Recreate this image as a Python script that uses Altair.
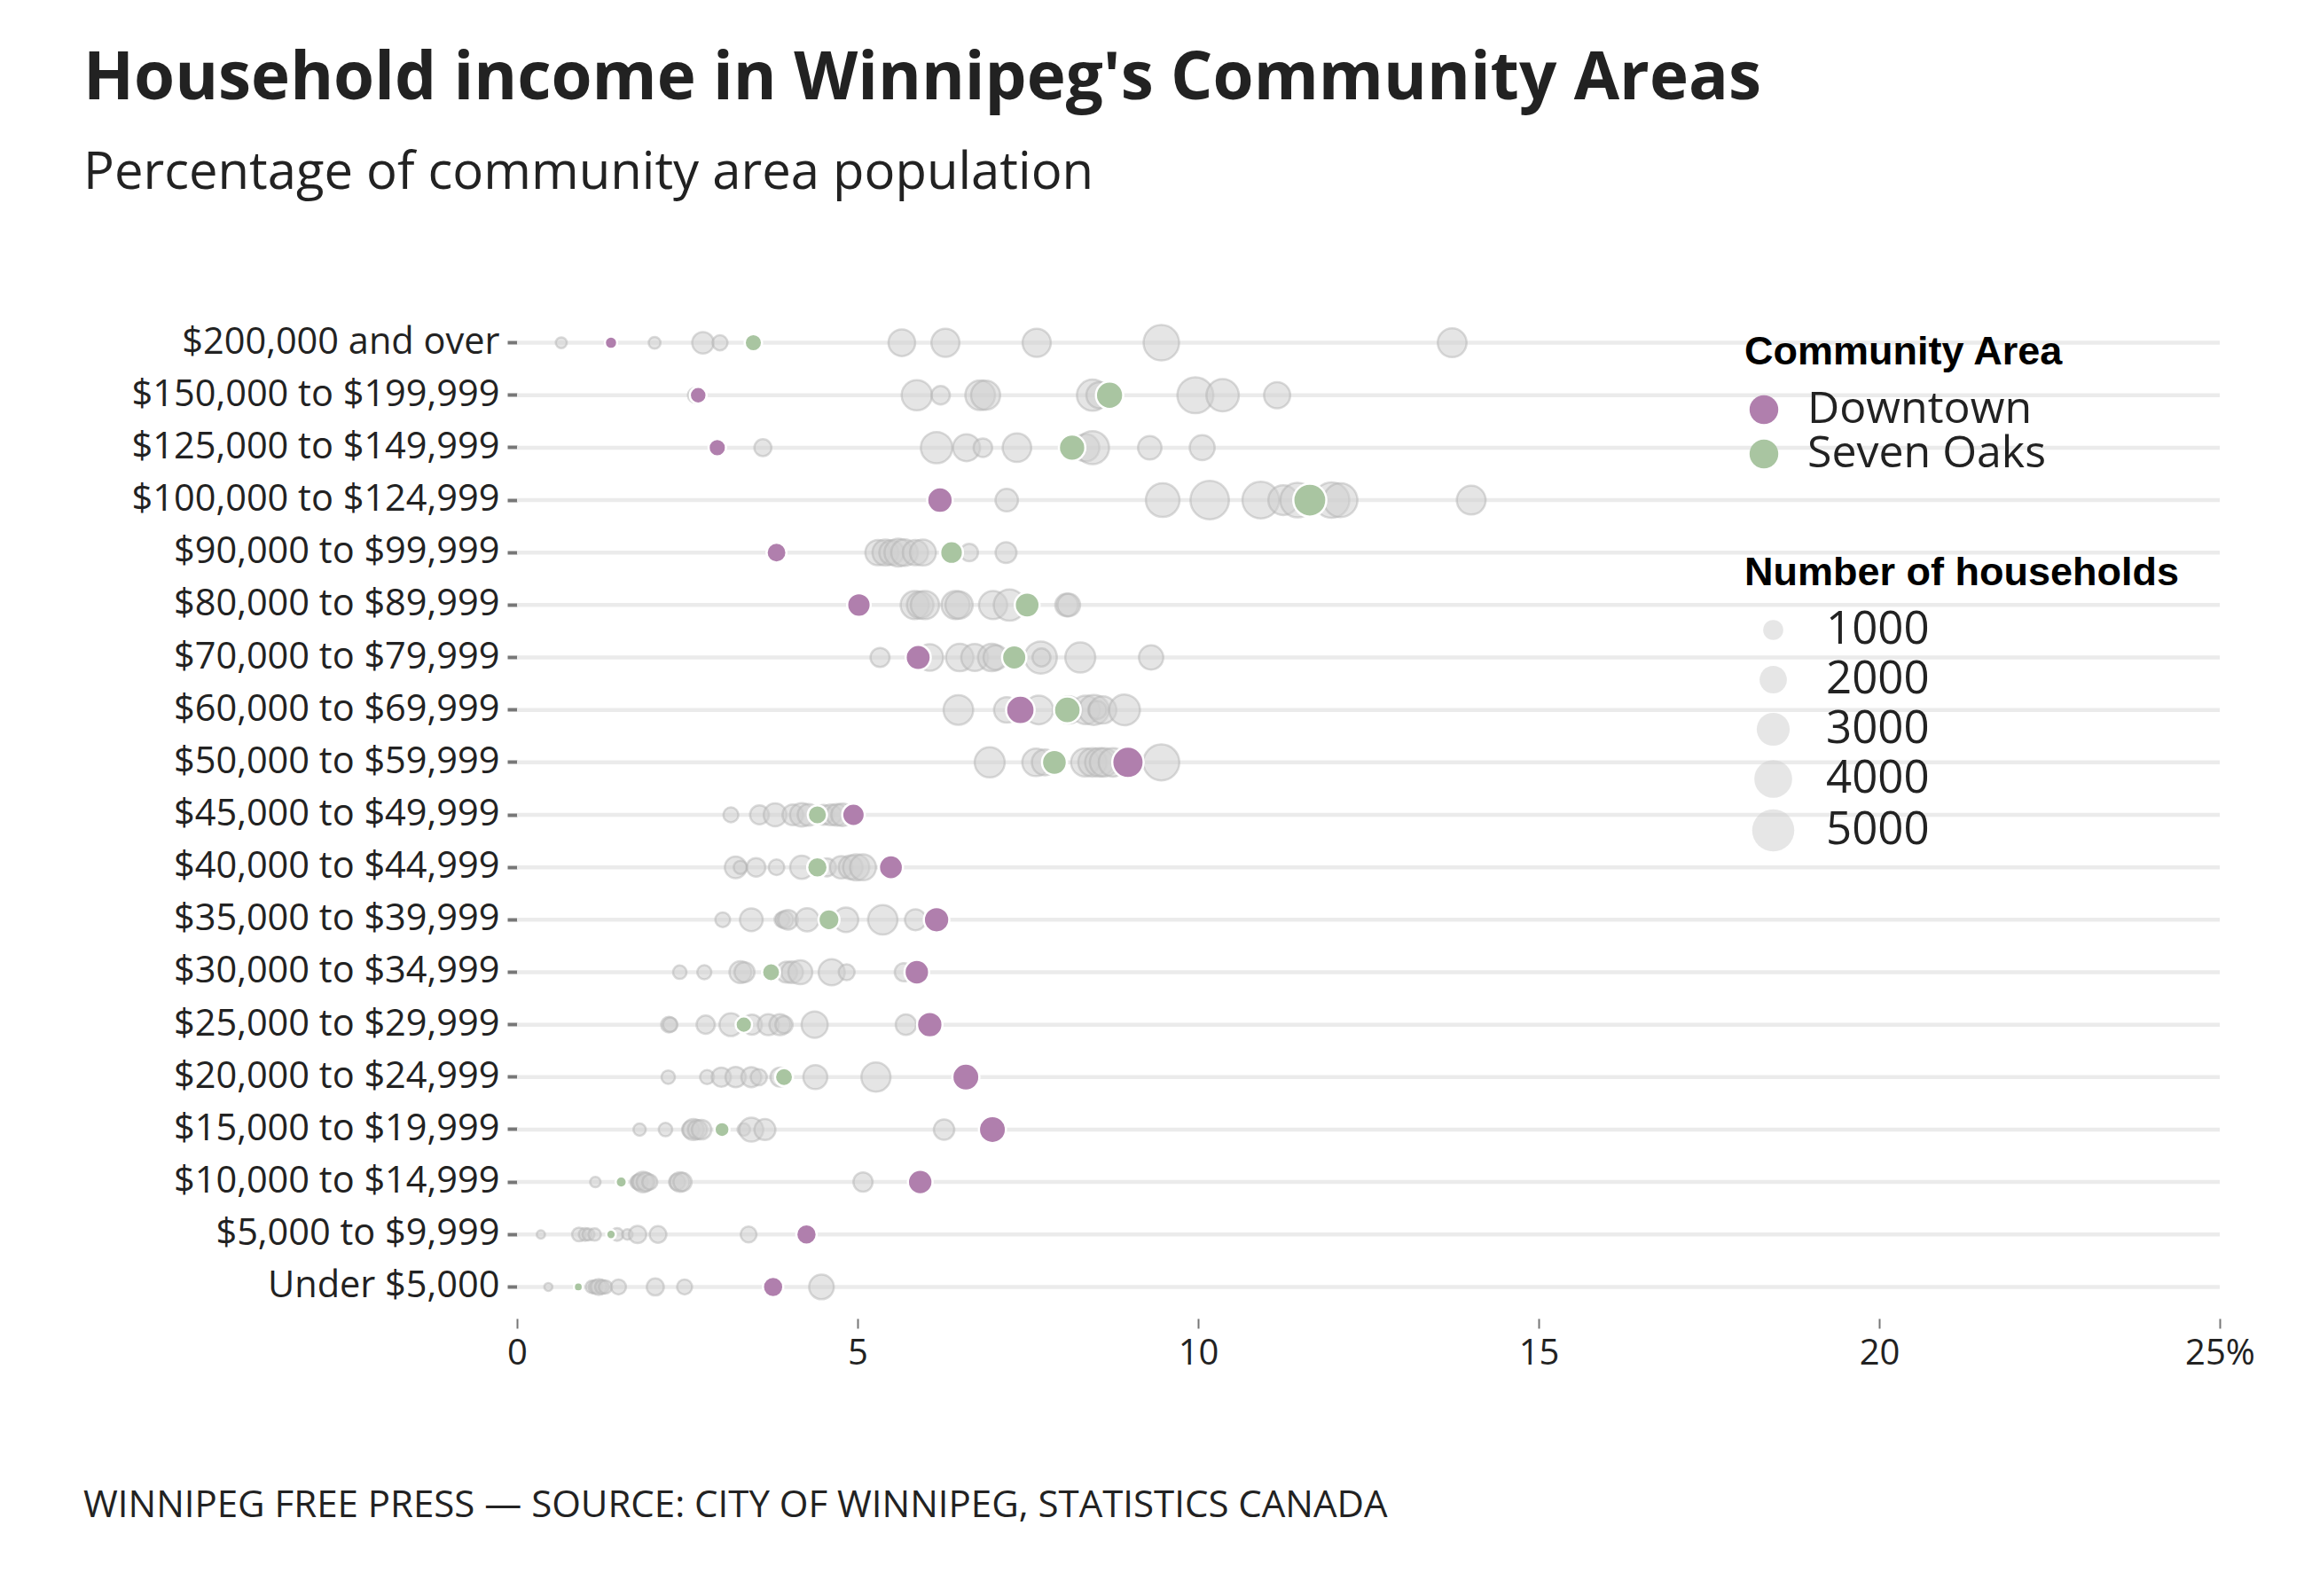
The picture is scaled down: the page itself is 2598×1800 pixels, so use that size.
import altair as alt
import pandas as pd

INCOME = [
    "$200,000 and over", "$150,000 to $199,999", "$125,000 to $149,999",
    "$100,000 to $124,999", "$90,000 to $99,999", "$80,000 to $89,999",
    "$70,000 to $79,999", "$60,000 to $69,999", "$50,000 to $59,999",
    "$45,000 to $49,999", "$40,000 to $44,999", "$35,000 to $39,999",
    "$30,000 to $34,999", "$25,000 to $29,999", "$20,000 to $24,999",
    "$15,000 to $19,999", "$10,000 to $14,999", "$5,000 to $9,999",
    "Under $5,000",
]

DOWNTOWN_PCT = [1.38, 2.66, 2.94, 6.21, 3.81, 5.02, 5.89, 7.39, 8.97, 4.94,
                5.49, 6.16, 5.87, 6.06, 6.59, 6.98, 5.92, 4.25, 3.76]
DOWNTOWN_HH = [281, 656, 711, 1744, 984, 1451, 1674, 2203, 2711, 1314,
               1516, 1733, 1605, 1733, 1962, 1962, 1605, 1048, 1048]

SEVEN_OAKS_PCT = [3.47, 8.70, 8.15, 11.64, 6.38, 7.49, 7.30, 8.08, 7.89, 4.41,
                  4.41, 4.58, 3.73, 3.33, 3.92, 3.01, 1.53, 1.38, 0.90]
SEVEN_OAKS_HH = [711, 2010, 1875, 3021, 1344, 1639, 1561, 1912, 1639, 911,
                 1048, 1124, 783, 625, 783, 489, 194, 100, 70]

# Other community areas, one list per income row (same order as INCOME)
OTHER_PCT = [
    [0.65, 2.02, 2.73, 2.98, 5.65, 6.29, 7.63, 9.46, 13.73],
    [2.62, 5.87, 6.22, 6.80, 6.88, 8.45, 8.55, 9.96, 10.36, 11.16],
    [3.61, 6.16, 6.60, 6.84, 7.34, 8.35, 8.45, 9.29, 10.06],
    [7.19, 9.48, 10.17, 10.92, 11.25, 11.46, 11.96, 12.09, 14.01],
    [5.30, 5.41, 5.50, 5.60, 5.69, 5.85, 5.96, 6.64, 7.18],
    [5.84, 5.92, 5.99, 6.44, 6.49, 6.99, 7.23, 8.07, 8.10],
    [5.33, 6.06, 6.50, 6.72, 6.97, 7.03, 7.69, 7.70, 8.27, 9.31],
    [6.48, 7.19, 7.66, 8.10, 8.35, 8.47, 8.52, 8.60, 8.92],
    [6.94, 7.62, 7.75, 8.34, 8.45, 8.55, 8.62, 8.75, 9.46],
    [3.14, 3.56, 3.79, 4.05, 4.18, 4.28, 4.50, 4.61, 4.70, 4.78],
    [3.21, 3.28, 3.51, 3.81, 4.18, 4.55, 4.76, 4.90, 4.98, 5.08],
    [3.02, 3.44, 3.89, 3.93, 3.98, 4.26, 4.83, 5.37, 5.85],
    [2.39, 2.75, 3.28, 3.34, 3.96, 4.04, 4.16, 4.62, 4.84, 5.68],
    [2.23, 2.25, 2.77, 3.14, 3.45, 3.69, 3.86, 3.92, 4.37, 5.71],
    [2.22, 2.79, 3.00, 3.21, 3.44, 3.55, 3.86, 4.38, 5.27],
    [1.80, 2.18, 2.55, 2.59, 2.65, 2.71, 3.33, 3.44, 3.64, 6.27],
    [1.15, 1.77, 1.80, 1.85, 1.89, 1.95, 2.35, 2.39, 2.43, 5.08],
    [0.35, 0.91, 1.00, 1.05, 1.14, 1.47, 1.62, 1.77, 2.07, 3.40],
    [0.46, 1.10, 1.15, 1.20, 1.25, 1.30, 1.49, 2.03, 2.46, 4.47],
]
OTHER_HH = [
    [184, 242, 1181, 501, 1912, 2137, 2163, 3506, 2255],
    [500, 2512, 825, 2400, 2300, 2682, 1800, 3623, 2903, 1827],
    [679, 2711, 1960, 842, 2214, 2000, 3000, 1440, 1651],
    [1314, 3142, 4152, 3756, 2430, 3300, 3507, 3190, 2255],
    [1700, 1800, 1600, 2100, 1900, 1700, 1800, 727, 1112],
    [2163, 1900, 2163, 2163, 2000, 2163, 2711, 1344, 1344],
    [895, 1912, 2040, 1950, 2040, 1600, 2850, 780, 2470, 1560],
    [2390, 1710, 2250, 2000, 2200, 2470, 800, 2000, 2600],
    [2470, 2040, 1800, 2130, 2200, 2200, 2200, 2200, 3600],
    [489, 877, 1355, 1100, 1440, 1200, 1000, 1120, 1200, 1310],
    [1200, 350, 840, 545, 1400, 800, 1310, 1500, 1830, 1800],
    [467, 1355, 480, 700, 955, 1400, 1600, 2360, 1120],
    [364, 414, 1230, 1000, 1120, 1200, 1500, 1830, 573, 800],
    [545, 450, 808, 1355, 1000, 1120, 1120, 700, 1830, 1050],
    [364, 414, 911, 1050, 1010, 600, 900, 1515, 2310],
    [275, 364, 700, 1120, 900, 950, 290, 1515, 1120, 1050],
    [155, 440, 600, 1050, 800, 500, 600, 950, 800, 911],
    [30, 390, 300, 252, 290, 300, 155, 718, 655, 573],
    [20, 300, 364, 573, 400, 350, 489, 686, 489, 1605],
]

AREAS = ["Downtown", "Seven Oaks"]
AREA_COLORS = ["#b07fad", "#a9c5a1"]
SIZE_LEGEND_VALUES = [1000, 2000, 3000, 4000, 5000]
X_TICKS = [0, 5, 10, 15, 20, 25]
TITLE = "Household income in Winnipeg's Community Areas"
SUBTITLE = "Percentage of community area population"
FOOTER = "WINNIPEG FREE PRESS \u2014 SOURCE: CITY OF WINNIPEG, STATISTICS CANADA"

# ---- tables built from the arrays above ----
other_rows = []
for inc, pcts, hhs in zip(INCOME, OTHER_PCT, OTHER_HH):
    for p, h in zip(pcts, hhs):
        other_rows.append({"income": inc, "pct": p, "households": h})
other_df = pd.DataFrame(other_rows)

focus_rows = []
for area, pcts, hhs in [("Downtown", DOWNTOWN_PCT, DOWNTOWN_HH),
                        ("Seven Oaks", SEVEN_OAKS_PCT, SEVEN_OAKS_HH)]:
    for inc, p, h in zip(INCOME, pcts, hhs):
        focus_rows.append({"income": inc, "pct": p, "households": h, "area": area})
focus_df = pd.DataFrame(focus_rows)

grid_df = pd.DataFrame({"income": INCOME, "start": [0] * len(INCOME),
                        "end": [X_TICKS[-1]] * len(INCOME)})
footer_df = pd.DataFrame({"note": [FOOTER]})

# ---- scales & axes ----
x_scale = alt.Scale(domain=[0, 25], nice=False, zero=True)
y_scale = alt.Scale(domain=INCOME, paddingInner=0, paddingOuter=0)
size_scale = alt.Scale(domain=[1000, 5000], range=[510, 2256], zero=False)

x_axis = alt.Axis(title=None, domain=False, grid=False, values=X_TICKS,
                  tickColor="#777777", tickSize=11, tickWidth=2,
                  labelFont="Open Sans", labelFontSize=40, labelColor="#222222",
                  labelPadding=8, offset=6, labelFlush=False, labelOverlap=False,
                  labelExpr="datum.value == 25 ? '25%' : datum.label")
y_axis = alt.Axis(title=None, domain=False, grid=False, tickColor="#777777",
                  tickSize=11, tickWidth=4, labelFont="Open Sans",
                  labelFontSize=41.5, labelColor="#222222", labelPadding=9,
                  labelLimit=700)

X = alt.X("pct:Q", scale=x_scale, axis=x_axis)
Y = alt.Y("income:N", scale=y_scale, sort=INCOME, axis=y_axis)

grid = alt.Chart(grid_df).mark_rule(color="#ebebeb", strokeWidth=4.5).encode(
    y=Y,
    x=alt.X("start:Q", scale=x_scale, axis=x_axis),
    x2="end:Q",
)

others = alt.Chart(other_df).mark_circle(
    fill="#cfcfcf", fillOpacity=0.55, stroke="#b0b0b0", strokeOpacity=0.45,
    strokeWidth=2.5, opacity=1,
).encode(
    x=X, y=Y,
    size=alt.Size("households:Q", scale=size_scale, legend=alt.Legend(
        title="Number of households", values=SIZE_LEGEND_VALUES, format="d",
        orient="none", legendX=1384, legendY=267, direction="vertical",
        symbolType="circle", symbolOffset=7, labelOffset=34,
        symbolFillColor="#e6e6e6", symbolStrokeColor="white",
        symbolStrokeWidth=2, symbolOpacity=0.5,
        titlePadding=16, rowPadding=4,
        labelFont="Open Sans", labelFontSize=51, labelColor="#222222",
        labelLimit=600, titleFont="Liberation Sans", titleFontSize=45,
        titleFontWeight="bold", titleColor="#000000", titleLimit=900)),
)

focus = alt.Chart(focus_df).mark_circle(
    fillOpacity=1, opacity=1, stroke="white", strokeWidth=2.5,
).encode(
    x=X, y=Y,
    size=alt.Size("households:Q", scale=size_scale, legend=None),
    color=alt.Color("area:N", scale=alt.Scale(domain=AREAS, range=AREA_COLORS),
                    legend=alt.Legend(
                        title="Community Area", orient="none", legendX=1384,
                        legendY=18, direction="vertical", symbolType="circle",
                        symbolSize=1050, symbolOffset=-3, labelOffset=24,
                        symbolStrokeWidth=0, titlePadding=17, rowPadding=-3,
                        labelFont="Open Sans", labelFontSize=50,
                        labelColor="#222222", labelLimit=600,
                        titleFont="Liberation Sans", titleFontSize=45,
                        titleFontWeight="bold", titleColor="#000000",
                        titleLimit=900)),
)

footer = alt.Chart(footer_df).mark_text(
    align="left", baseline="alphabetic", font="Open Sans", fontSize=42,
    color="#222222",
).encode(x=alt.value(-489), y=alt.value(1354), text="note:N")

chart = alt.layer(grid, others, focus, footer).properties(
    width=1920, height=1124,
    title=alt.TitleParams(
        text=TITLE, subtitle=SUBTITLE, anchor="start", frame="group",
        dx=-489, offset=131, font="Open Sans", fontSize=74.5, fontWeight="bold",
        color="#222222", subtitleFont="Open Sans", subtitleFontSize=58,
        subtitleColor="#222222", subtitlePadding=40),
    autosize=alt.AutoSizeParams(type="none"),
    padding={"left": 575, "top": 349, "right": 80, "bottom": 300},
).configure(background="white").configure_view(strokeWidth=0, stroke=None)

chart.save("out.html", embed_options={"renderer": "svg", "actions": False})
